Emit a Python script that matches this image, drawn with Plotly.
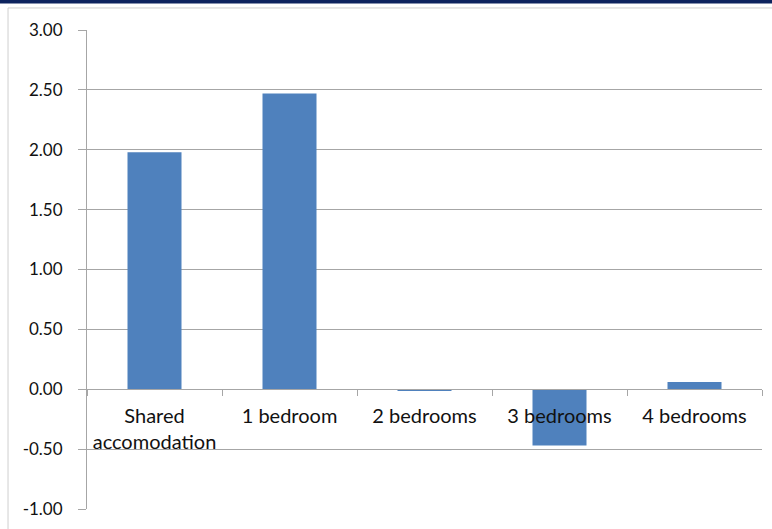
import plotly.graph_objects as go

categories = ["Shared<br>accomodation", "1 bedroom", "2 bedrooms", "3 bedrooms", "4 bedrooms"]
values = [1.98, 2.47, -0.01, -0.47, 0.06]
y_ticks = [-1.0, -0.5, 0.0, 0.5, 1.0, 1.5, 2.0, 2.5, 3.0]
y_tick_labels = [f"{v:.2f}" for v in y_ticks]

FONT = "Lato"
GRID = "#a6a6a6"
TEXT = "#111111"

fig = go.Figure()
fig.add_trace(go.Bar(
    x=categories, y=values,
    marker=dict(color="#4f81bd", line=dict(width=0)),
    width=0.4,
    hoverinfo="skip",
))

fig.update_layout(
    width=772, height=529,
    margin=dict(l=87, r=10, t=30, b=20),
    paper_bgcolor="white", plot_bgcolor="white",
    showlegend=False,
    font=dict(family=FONT, size=17, color=TEXT),
    xaxis=dict(
        type="category",
        anchor="free", position=0.25,
        showline=True, linecolor=GRID, linewidth=1,
        ticks="outside", tickson="boundaries", ticklen=6, tickcolor=GRID,
        showgrid=False, zeroline=False,
        tickfont=dict(family=FONT, size=20, color=TEXT),
        ticklabelstandoff=9,
        range=[-0.5, 4.5],
    ),
    yaxis=dict(
        range=[-1, 3], tickmode="array", tickvals=y_ticks, ticktext=y_tick_labels,
        showline=True, linecolor=GRID, linewidth=1,
        ticks="outside", ticklen=8, tickcolor=GRID,
        showgrid=True, gridcolor=GRID, gridwidth=1,
        zeroline=False,
        tickfont=dict(family=FONT, size=17, color=TEXT),
        ticklabelstandoff=12,
    ),
    shapes=[
        dict(type="rect", xref="paper", yref="paper",
             x0=-0.117, x1=1.05, y0=-0.08, y1=1.046,
             line=dict(color="#cfcfcf", width=1), fillcolor="rgba(0,0,0,0)", layer="below"),
        dict(type="rect", xref="paper", yref="paper",
             x0=-0.2, x1=1.1, y0=1.0555, y1=1.08,
             line=dict(width=0), fillcolor="#0d235e"),
    ],
)

fig.write_html("out.html", config={"displayModeBar": False},
               post_script="document.body.style.margin='0';")
